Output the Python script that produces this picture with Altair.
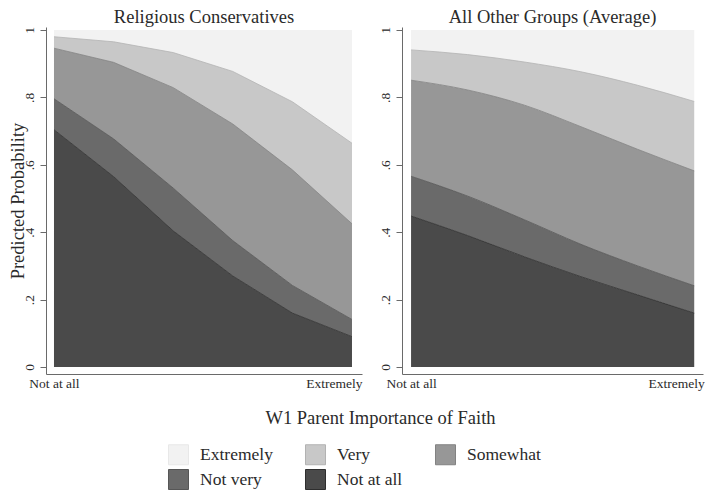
import json
import altair as alt
import pandas as pd

# ---------------- data ----------------
x_levels = [0, 1, 2, 3, 4, 5]
x_tick_values = [0, 5]
x_tick_labels = ["Not at all", "Extremely"]
y_tick_values = [0, 0.2, 0.4, 0.6, 0.8, 1.0]
y_tick_labels = ["0", ".2", ".4", ".6", ".8", "1"]

categories = ["Extremely", "Very", "Somewhat", "Not very", "Not at all"]
fill_colors = ["#f2f2f2", "#c8c8c8", "#979797", "#6a6a6a", "#4a4a4a"]
edge_colors = ["#e8e8e8", "#b2b2b2", "#828282", "#565656", "#2e2e2e"]

panel_titles = ["Religious Conservatives", "All Other Groups (Average)"]

# cumulative predicted probabilities (upper edge of each band)
rc_not_at_all = [0.704, 0.565, 0.404, 0.270, 0.160, 0.090]
rc_not_very = [0.796, 0.677, 0.531, 0.375, 0.242, 0.141]
rc_somewhat = [0.946, 0.904, 0.829, 0.721, 0.585, 0.425]
rc_very = [0.980, 0.965, 0.933, 0.877, 0.787, 0.664]

ao_not_at_all = [0.448, 0.390, 0.327, 0.268, 0.214, 0.160]
ao_not_very = [0.566, 0.507, 0.437, 0.364, 0.300, 0.241]
ao_somewhat = [0.851, 0.822, 0.777, 0.713, 0.646, 0.582]
ao_very = [0.941, 0.927, 0.905, 0.876, 0.836, 0.788]

total = [1.0, 1.0, 1.0, 1.0, 1.0, 1.0]
floor = [0.0, 0.0, 0.0, 0.0, 0.0, 0.0]


def band_table(not_at_all, not_very, somewhat, very):
    upper = {"Extremely": total, "Very": very, "Somewhat": somewhat,
             "Not very": not_very, "Not at all": not_at_all}
    lower = {"Extremely": very, "Very": somewhat, "Somewhat": not_very,
             "Not very": not_at_all, "Not at all": floor}
    rows = []
    for c in categories:
        for i, x in enumerate(x_levels):
            rows.append({"x": x, "category": c, "upper": upper[c][i], "lower": lower[c][i]})
    return pd.DataFrame(rows)


df_rc = band_table(rc_not_at_all, rc_not_very, rc_somewhat, rc_very)
df_ao = band_table(ao_not_at_all, ao_not_very, ao_somewhat, ao_very)

# ---------------- style ----------------
FONT = "Liberation Serif"
TXT = "#2a2a2a"
AXC = "#6a6a6a"
H = 347
Y_DOMAIN = [-0.0208, 1.0089]

x_label_expr = f"{json.dumps(x_tick_labels)}[datum.value == {x_tick_values[0]} ? 0 : 1]"
y_label_expr = f"{json.dumps(y_tick_labels)}[round(datum.value * 5)]"


def make_panel(df, title, width, x_domain, interp, y_title, x_title):
    x_axis_kwargs = dict(
        values=x_tick_values, labelExpr=x_label_expr, ticks=False, tickSize=0,
        grid=False, labelFlush=False, labelPadding=2,
        labelAlign={"condition": {"test": "datum.value >= 5", "value": "right"}, "value": "center"},
        labelOffset={"condition": {"test": "datum.value >= 5", "value": 10}, "value": 0},
        labelFontSize=13.5,
    )
    if x_title:
        x_axis_kwargs.update(title=x_title, titleX=334, titleY=49, titleAlign="center",
                             titleBaseline="alphabetic", titleFontSize=18.5)
    else:
        x_axis_kwargs.update(title=None)

    y_axis_kwargs = dict(
        values=y_tick_values, labelExpr=y_label_expr, labelAngle=270, tickSize=6,
        grid=False, labelPadding=4, labelFontSize=13.5, labelFlush=False,
    )
    if y_title:
        y_axis_kwargs.update(title=y_title, titleAngle=270, titleX=-29, titleAlign="center",
                             titleBaseline="middle", titleFontSize=18.5)
    else:
        y_axis_kwargs.update(title=None)

    xenc = alt.X("x:Q", scale=alt.Scale(domain=x_domain, nice=False, zero=False),
                 axis=alt.Axis(**x_axis_kwargs))
    yscale = alt.Scale(domain=Y_DOMAIN, nice=False, zero=False)

    base = alt.Chart(df)
    area = base.mark_area(interpolate=interp).encode(
        x=xenc,
        y=alt.Y("upper:Q", scale=yscale, axis=alt.Axis(**y_axis_kwargs)),
        y2=alt.Y2("lower"),
        color=alt.Color("category:N", scale=alt.Scale(domain=categories, range=fill_colors),
                        legend=alt.Legend(title=None)),
    )
    edges = base.transform_filter(alt.datum.category != "Extremely").mark_line(
        interpolate=interp, strokeWidth=0.8
    ).encode(
        x=alt.X("x:Q"),
        y=alt.Y("upper:Q"),
        stroke=alt.Stroke("category:N", scale=alt.Scale(domain=categories, range=edge_colors),
                          legend=None),
    )
    return alt.layer(area, edges).properties(
        width=width, height=H,
        title=alt.TitleParams(title, font=FONT, fontSize=18.5, fontWeight="normal", color=TXT,
                              anchor="middle", frame="group", offset=0),
    )


left = make_panel(df_rc, panel_titles[0], 316, [-0.134, 5.168], "linear",
                  "Predicted Probability", "W1 Parent Importance of Faith")
right = make_panel(df_ao, panel_titles[1], 301, [-0.16, 5.155], "monotone", None, None)

chart = alt.hconcat(left, right, spacing=40, bounds="flush").resolve_scale(
    x="independent", y="independent"
).properties(padding=0).configure_view(stroke=None).configure_axis(
    domainColor=AXC, tickColor=AXC, labelColor=TXT, titleColor=TXT,
    labelFont=FONT, titleFont=FONT, titleFontWeight="normal", domainWidth=1, tickWidth=1,
).configure_legend(
    orient="none", legendX=122, legendY=417, columns=3, direction="horizontal",
    symbolType="square", symbolSize=400, symbolStrokeColor="#5a5a5a", symbolStrokeWidth=1,
    labelFont=FONT, labelFontSize=17.5, labelColor=TXT, labelOffset=11,
    columnPadding=30, rowPadding=0, padding=0, labelLimit=300,
)

chart.save("out.html", embed_options={"renderer": "svg", "actions": False})
